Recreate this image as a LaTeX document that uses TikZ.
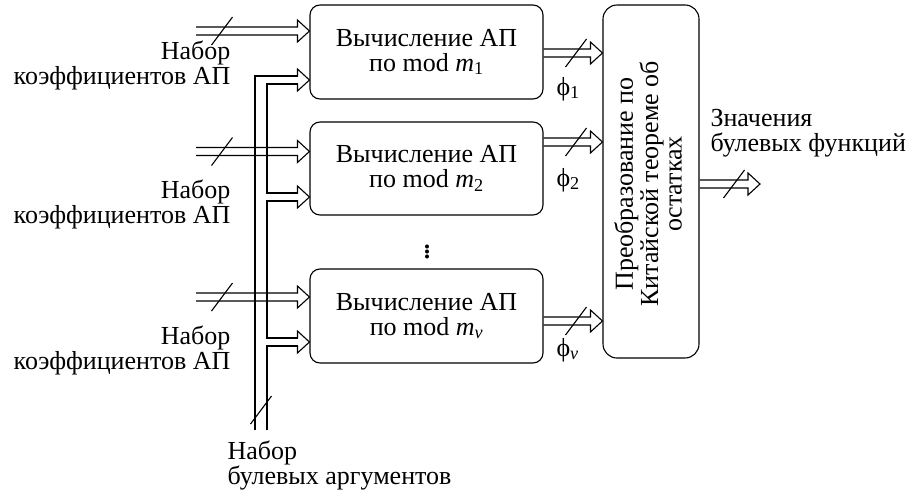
\documentclass[tikz,border=0pt]{standalone}
\usepackage{fontspec}
\setmainfont{Liberation Serif}
\usetikzlibrary{calc}
\newcommand\fatarrow[2]{\draw let \p1=(#1), \p2=(#2) in (\x1,\y2+4pt) -- (\x2-12pt,\y2+4pt) -- (\x2-12pt,\y2+11pt) -- (\x2,\y2) -- (\x2-12pt,\y2-11pt) -- (\x2-12pt,\y2-4pt) -- (\x1,\y2-4pt);}
\newcommand\busmark[1]{\draw ($(#1)+(-10.5pt,-14pt)$) -- ($(#1)+(10.5pt,14pt)$);}
\begin{document}
\begin{tikzpicture}[x=1pt,y=-1pt, font=\fontsize{26}{25}\selectfont, line width=1.1pt,
  box/.style={draw, rounded corners=10pt, minimum width=233pt, minimum height=94pt, align=center, inner sep=0pt},
  lbl/.style={inner sep=0pt}]
\useasboundingbox (0,0) rectangle (908,493);
% blocks
\node[box] (b1) at (426.5,52) {Вычисление АП\\по mod \textit{m}\textsubscript{1}};
\node[box, minimum height=93pt] (b2) at (426.5,168.5) {Вычисление АП\\по mod \textit{m}\textsubscript{2}};
\node[box] (b3) at (426.5,316) {Вычисление АП\\по mod \textit{m}\textsubscript{\textit{v}}};
\node[draw, rounded corners=14pt, minimum width=96pt, minimum height=353pt, inner sep=0pt] (crt) at (651,181.5) {};
\node[rotate=90, align=center, lbl, font=\fontsize{26}{23.5}\selectfont] (crtlbl) at (648,184) {Преобразование по\\Китайской теореме об\\остатках};
\node[lbl, font=\fontsize{34}{34}\selectfont] (dots) at (427,249) {$\vdots$};
% input coordinates
\coordinate (in1) at (196,31);
\coordinate (in2) at (196,151.5);
\coordinate (in3) at (196,297);
\coordinate (br1) at (298,80);
\coordinate (br2) at (298,197);
\coordinate (br3) at (298,342);
\coordinate (busbot) at (261,430);
% coefficient inputs
\fatarrow{in1}{b1.west |- in1}
\fatarrow{in2}{b2.west |- in2}
\fatarrow{in3}{b3.west |- in3}
\busmark{222,31}
\busmark{222,151.5}
\busmark{222,297}
% argument bus
\draw (br1 |- 0,76) -- (255,76) -- (busbot -| 255,0);
\draw (br1 |- 0,84) -- (267,84) -- (267,193) -- (br2 |- 0,193);
\draw (br2 |- 0,201) -- (267,201) -- (267,338) -- (br3 |- 0,338);
\draw (br3 |- 0,346) -- (267,346) -- (busbot -| 267,0);
\fatarrow{br1}{b1.west |- br1}
\fatarrow{br2}{b2.west |- br2}
\fatarrow{br3}{b3.west |- br3}
\busmark{261,410}
% outputs of blocks
\fatarrow{b1.east |- 0,53}{crt.west |- 0,53}
\fatarrow{b2.east |- 0,142}{crt.west |- 0,142}
\fatarrow{b3.east |- 0,321}{crt.west |- 0,321}
\busmark{576,53}
\busmark{576,142}
\busmark{576,321}
\coordinate (outend) at (760,184);
\fatarrow{crt.east |- outend}{outend}
\busmark{734,184}
% labels (base anchor = baseline of last line)
\node[lbl, anchor=base east, align=right] (l1) at (231,84) {Набор\\коэффициентов АП};
\node[lbl, anchor=base east, align=right] (l2) at (231,223) {Набор\\коэффициентов АП};
\node[lbl, anchor=base east, align=right] (l3) at (231,369) {Набор\\коэффициентов АП};
\node[lbl, anchor=base west, align=left] (lbus) at (227,484) {Набор\\булевых аргументов};
\node[lbl, anchor=base west, align=left] (lout) at (710,151) {Значения\\булевых функций};
\node[lbl, anchor=base west] (p1) at (556,95) {ϕ\textsubscript{1}};
\node[lbl, anchor=base west] (p2) at (556,186) {ϕ\textsubscript{2}};
\node[lbl, anchor=base west] (pv) at (556,356) {ϕ\textsubscript{\textit{v}}};
\end{tikzpicture}
\end{document}
